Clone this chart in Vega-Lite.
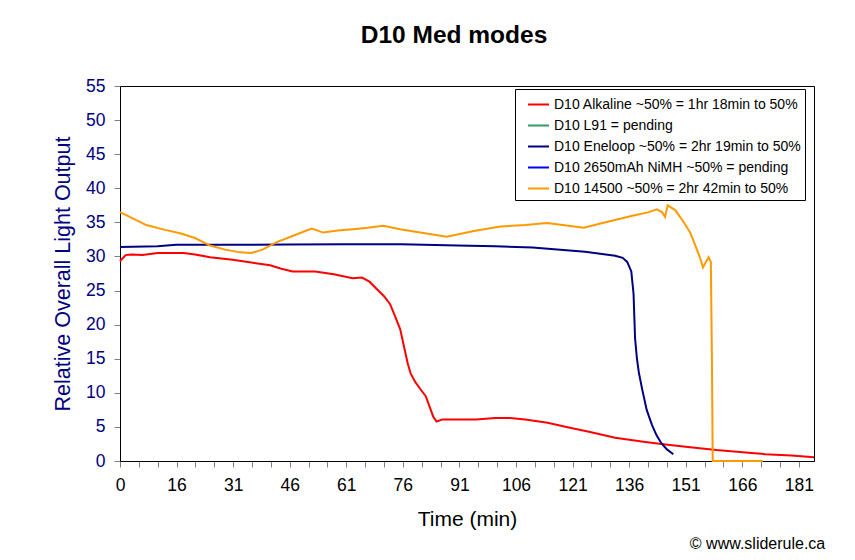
{
  "$schema": "https://vega.github.io/schema/vega-lite/v6.json",
  "width": 694,
  "height": 375,
  "autosize": "none",
  "padding": {"left": 120, "top": 86, "right": 41, "bottom": 99},
  "background": "white",
  "title": {"text": "D10 Med modes", "fontSize": 24.5, "font": "Liberation Sans", "fontWeight": "bold", "color": "black", "anchor": "middle", "offset": 29, "dx": -13},
  "config": {
    "view": {"stroke": "black", "strokeWidth": 1},
    "font": "Liberation Sans",
    "legend": {"orient": "none", "legendX": 395, "legendY": 3, "strokeColor": "black", "fillColor": "white", "padding": 4, "symbolOffset": 8, "symbolType": "stroke", "symbolStrokeWidth": 2, "symbolSize": 441, "labelFontSize": 14, "labelFont": "Liberation Sans", "labelColor": "black", "rowPadding": 2, "labelLimit": 400, "labelOffset": 4}
  },
  "data": {"values": [
    {"series": "D10 Alkaline ~50% = 1hr 18min to 50%", "t": 0, "v": 29.3},
    {"series": "D10 Alkaline ~50% = 1hr 18min to 50%", "t": 1.5, "v": 30.2},
    {"series": "D10 Alkaline ~50% = 1hr 18min to 50%", "t": 3, "v": 30.3},
    {"series": "D10 Alkaline ~50% = 1hr 18min to 50%", "t": 6, "v": 30.2},
    {"series": "D10 Alkaline ~50% = 1hr 18min to 50%", "t": 10, "v": 30.5},
    {"series": "D10 Alkaline ~50% = 1hr 18min to 50%", "t": 17, "v": 30.5},
    {"series": "D10 Alkaline ~50% = 1hr 18min to 50%", "t": 20, "v": 30.3},
    {"series": "D10 Alkaline ~50% = 1hr 18min to 50%", "t": 24, "v": 29.9},
    {"series": "D10 Alkaline ~50% = 1hr 18min to 50%", "t": 30, "v": 29.5},
    {"series": "D10 Alkaline ~50% = 1hr 18min to 50%", "t": 35, "v": 29.1},
    {"series": "D10 Alkaline ~50% = 1hr 18min to 50%", "t": 40, "v": 28.7},
    {"series": "D10 Alkaline ~50% = 1hr 18min to 50%", "t": 43, "v": 28.2},
    {"series": "D10 Alkaline ~50% = 1hr 18min to 50%", "t": 46, "v": 27.8},
    {"series": "D10 Alkaline ~50% = 1hr 18min to 50%", "t": 52, "v": 27.8},
    {"series": "D10 Alkaline ~50% = 1hr 18min to 50%", "t": 57, "v": 27.4},
    {"series": "D10 Alkaline ~50% = 1hr 18min to 50%", "t": 62, "v": 26.8},
    {"series": "D10 Alkaline ~50% = 1hr 18min to 50%", "t": 64.5, "v": 26.9},
    {"series": "D10 Alkaline ~50% = 1hr 18min to 50%", "t": 66.5, "v": 26.3},
    {"series": "D10 Alkaline ~50% = 1hr 18min to 50%", "t": 68.5, "v": 25.2},
    {"series": "D10 Alkaline ~50% = 1hr 18min to 50%", "t": 70.5, "v": 24.1},
    {"series": "D10 Alkaline ~50% = 1hr 18min to 50%", "t": 72, "v": 23.0},
    {"series": "D10 Alkaline ~50% = 1hr 18min to 50%", "t": 73.5, "v": 21.0},
    {"series": "D10 Alkaline ~50% = 1hr 18min to 50%", "t": 74.7, "v": 19.3},
    {"series": "D10 Alkaline ~50% = 1hr 18min to 50%", "t": 75.7, "v": 16.8},
    {"series": "D10 Alkaline ~50% = 1hr 18min to 50%", "t": 76.7, "v": 14.3},
    {"series": "D10 Alkaline ~50% = 1hr 18min to 50%", "t": 77.5, "v": 12.8},
    {"series": "D10 Alkaline ~50% = 1hr 18min to 50%", "t": 78.7, "v": 11.6},
    {"series": "D10 Alkaline ~50% = 1hr 18min to 50%", "t": 80, "v": 10.6},
    {"series": "D10 Alkaline ~50% = 1hr 18min to 50%", "t": 81.5, "v": 9.5},
    {"series": "D10 Alkaline ~50% = 1hr 18min to 50%", "t": 82.5, "v": 8.0},
    {"series": "D10 Alkaline ~50% = 1hr 18min to 50%", "t": 83.5, "v": 6.5},
    {"series": "D10 Alkaline ~50% = 1hr 18min to 50%", "t": 84.4, "v": 5.8},
    {"series": "D10 Alkaline ~50% = 1hr 18min to 50%", "t": 86, "v": 6.1},
    {"series": "D10 Alkaline ~50% = 1hr 18min to 50%", "t": 90, "v": 6.1},
    {"series": "D10 Alkaline ~50% = 1hr 18min to 50%", "t": 95, "v": 6.1},
    {"series": "D10 Alkaline ~50% = 1hr 18min to 50%", "t": 100, "v": 6.3},
    {"series": "D10 Alkaline ~50% = 1hr 18min to 50%", "t": 104, "v": 6.3},
    {"series": "D10 Alkaline ~50% = 1hr 18min to 50%", "t": 108, "v": 6.1},
    {"series": "D10 Alkaline ~50% = 1hr 18min to 50%", "t": 114, "v": 5.6},
    {"series": "D10 Alkaline ~50% = 1hr 18min to 50%", "t": 119, "v": 5.0},
    {"series": "D10 Alkaline ~50% = 1hr 18min to 50%", "t": 125, "v": 4.3},
    {"series": "D10 Alkaline ~50% = 1hr 18min to 50%", "t": 132, "v": 3.4},
    {"series": "D10 Alkaline ~50% = 1hr 18min to 50%", "t": 140, "v": 2.8},
    {"series": "D10 Alkaline ~50% = 1hr 18min to 50%", "t": 146, "v": 2.4},
    {"series": "D10 Alkaline ~50% = 1hr 18min to 50%", "t": 152, "v": 2.0},
    {"series": "D10 Alkaline ~50% = 1hr 18min to 50%", "t": 159, "v": 1.6},
    {"series": "D10 Alkaline ~50% = 1hr 18min to 50%", "t": 166, "v": 1.3},
    {"series": "D10 Alkaline ~50% = 1hr 18min to 50%", "t": 172, "v": 1.0},
    {"series": "D10 Alkaline ~50% = 1hr 18min to 50%", "t": 179, "v": 0.8},
    {"series": "D10 Alkaline ~50% = 1hr 18min to 50%", "t": 185, "v": 0.55},
    {"series": "D10 Eneloop ~50% = 2hr 19min to 50%", "t": 0, "v": 31.4},
    {"series": "D10 Eneloop ~50% = 2hr 19min to 50%", "t": 10, "v": 31.5},
    {"series": "D10 Eneloop ~50% = 2hr 19min to 50%", "t": 15, "v": 31.7},
    {"series": "D10 Eneloop ~50% = 2hr 19min to 50%", "t": 30, "v": 31.7},
    {"series": "D10 Eneloop ~50% = 2hr 19min to 50%", "t": 45, "v": 31.75},
    {"series": "D10 Eneloop ~50% = 2hr 19min to 50%", "t": 60, "v": 31.8},
    {"series": "D10 Eneloop ~50% = 2hr 19min to 50%", "t": 75, "v": 31.8},
    {"series": "D10 Eneloop ~50% = 2hr 19min to 50%", "t": 90, "v": 31.6},
    {"series": "D10 Eneloop ~50% = 2hr 19min to 50%", "t": 100, "v": 31.5},
    {"series": "D10 Eneloop ~50% = 2hr 19min to 50%", "t": 110, "v": 31.3},
    {"series": "D10 Eneloop ~50% = 2hr 19min to 50%", "t": 119, "v": 30.9},
    {"series": "D10 Eneloop ~50% = 2hr 19min to 50%", "t": 124, "v": 30.7},
    {"series": "D10 Eneloop ~50% = 2hr 19min to 50%", "t": 128, "v": 30.4},
    {"series": "D10 Eneloop ~50% = 2hr 19min to 50%", "t": 132, "v": 30.1},
    {"series": "D10 Eneloop ~50% = 2hr 19min to 50%", "t": 134, "v": 29.8},
    {"series": "D10 Eneloop ~50% = 2hr 19min to 50%", "t": 135.2, "v": 29.2},
    {"series": "D10 Eneloop ~50% = 2hr 19min to 50%", "t": 136.3, "v": 27.8},
    {"series": "D10 Eneloop ~50% = 2hr 19min to 50%", "t": 136.9, "v": 24.5},
    {"series": "D10 Eneloop ~50% = 2hr 19min to 50%", "t": 137.3, "v": 18.0},
    {"series": "D10 Eneloop ~50% = 2hr 19min to 50%", "t": 137.8, "v": 15.0},
    {"series": "D10 Eneloop ~50% = 2hr 19min to 50%", "t": 138.3, "v": 13.0},
    {"series": "D10 Eneloop ~50% = 2hr 19min to 50%", "t": 139.2, "v": 10.5},
    {"series": "D10 Eneloop ~50% = 2hr 19min to 50%", "t": 140.4, "v": 7.5},
    {"series": "D10 Eneloop ~50% = 2hr 19min to 50%", "t": 141.8, "v": 5.3},
    {"series": "D10 Eneloop ~50% = 2hr 19min to 50%", "t": 143, "v": 3.8},
    {"series": "D10 Eneloop ~50% = 2hr 19min to 50%", "t": 144.3, "v": 2.6},
    {"series": "D10 Eneloop ~50% = 2hr 19min to 50%", "t": 145.8, "v": 1.7},
    {"series": "D10 Eneloop ~50% = 2hr 19min to 50%", "t": 147.5, "v": 1.0},
    {"series": "D10 14500 ~50% = 2hr 42min to 50%", "t": 0, "v": 36.5},
    {"series": "D10 14500 ~50% = 2hr 42min to 50%", "t": 3, "v": 35.7},
    {"series": "D10 14500 ~50% = 2hr 42min to 50%", "t": 7, "v": 34.6},
    {"series": "D10 14500 ~50% = 2hr 42min to 50%", "t": 12, "v": 33.9},
    {"series": "D10 14500 ~50% = 2hr 42min to 50%", "t": 16, "v": 33.4},
    {"series": "D10 14500 ~50% = 2hr 42min to 50%", "t": 20, "v": 32.7},
    {"series": "D10 14500 ~50% = 2hr 42min to 50%", "t": 24, "v": 31.6},
    {"series": "D10 14500 ~50% = 2hr 42min to 50%", "t": 28, "v": 31.0},
    {"series": "D10 14500 ~50% = 2hr 42min to 50%", "t": 32, "v": 30.6},
    {"series": "D10 14500 ~50% = 2hr 42min to 50%", "t": 35, "v": 30.5},
    {"series": "D10 14500 ~50% = 2hr 42min to 50%", "t": 38, "v": 31.0},
    {"series": "D10 14500 ~50% = 2hr 42min to 50%", "t": 41.8, "v": 32.1},
    {"series": "D10 14500 ~50% = 2hr 42min to 50%", "t": 46, "v": 33.0},
    {"series": "D10 14500 ~50% = 2hr 42min to 50%", "t": 51.1, "v": 34.1},
    {"series": "D10 14500 ~50% = 2hr 42min to 50%", "t": 54.2, "v": 33.5},
    {"series": "D10 14500 ~50% = 2hr 42min to 50%", "t": 58, "v": 33.8},
    {"series": "D10 14500 ~50% = 2hr 42min to 50%", "t": 62.2, "v": 34.0},
    {"series": "D10 14500 ~50% = 2hr 42min to 50%", "t": 66, "v": 34.2},
    {"series": "D10 14500 ~50% = 2hr 42min to 50%", "t": 70.2, "v": 34.5},
    {"series": "D10 14500 ~50% = 2hr 42min to 50%", "t": 74.7, "v": 34.0},
    {"series": "D10 14500 ~50% = 2hr 42min to 50%", "t": 80, "v": 33.5},
    {"series": "D10 14500 ~50% = 2hr 42min to 50%", "t": 87.1, "v": 32.9},
    {"series": "D10 14500 ~50% = 2hr 42min to 50%", "t": 94, "v": 33.7},
    {"series": "D10 14500 ~50% = 2hr 42min to 50%", "t": 101.3, "v": 34.4},
    {"series": "D10 14500 ~50% = 2hr 42min to 50%", "t": 108, "v": 34.6},
    {"series": "D10 14500 ~50% = 2hr 42min to 50%", "t": 113.8, "v": 34.9},
    {"series": "D10 14500 ~50% = 2hr 42min to 50%", "t": 118, "v": 34.6},
    {"series": "D10 14500 ~50% = 2hr 42min to 50%", "t": 123.6, "v": 34.2},
    {"series": "D10 14500 ~50% = 2hr 42min to 50%", "t": 130, "v": 35.1},
    {"series": "D10 14500 ~50% = 2hr 42min to 50%", "t": 136.9, "v": 36.0},
    {"series": "D10 14500 ~50% = 2hr 42min to 50%", "t": 141, "v": 36.5},
    {"series": "D10 14500 ~50% = 2hr 42min to 50%", "t": 143.1, "v": 36.9},
    {"series": "D10 14500 ~50% = 2hr 42min to 50%", "t": 144.5, "v": 36.5},
    {"series": "D10 14500 ~50% = 2hr 42min to 50%", "t": 145.3, "v": 35.8},
    {"series": "D10 14500 ~50% = 2hr 42min to 50%", "t": 146.0, "v": 37.5},
    {"series": "D10 14500 ~50% = 2hr 42min to 50%", "t": 148, "v": 36.8},
    {"series": "D10 14500 ~50% = 2hr 42min to 50%", "t": 150.2, "v": 35.1},
    {"series": "D10 14500 ~50% = 2hr 42min to 50%", "t": 152, "v": 33.5},
    {"series": "D10 14500 ~50% = 2hr 42min to 50%", "t": 153.3, "v": 31.7},
    {"series": "D10 14500 ~50% = 2hr 42min to 50%", "t": 154.5, "v": 30.0},
    {"series": "D10 14500 ~50% = 2hr 42min to 50%", "t": 155.4, "v": 28.4},
    {"series": "D10 14500 ~50% = 2hr 42min to 50%", "t": 156.9, "v": 29.9},
    {"series": "D10 14500 ~50% = 2hr 42min to 50%", "t": 157.5, "v": 29.2},
    {"series": "D10 14500 ~50% = 2hr 42min to 50%", "t": 157.8, "v": 14.3},
    {"series": "D10 14500 ~50% = 2hr 42min to 50%", "t": 158.0, "v": 0},
    {"series": "D10 14500 ~50% = 2hr 42min to 50%", "t": 171.3, "v": 0}
  ]},
  "layer": [
    {
      "mark": {"type": "line", "strokeWidth": 2, "clip": false},
      "encoding": {
        "x": {"field": "t", "type": "quantitative", "scale": {"domain": [0, 185], "nice": false, "zero": false},
          "axis": {"title": "Time (min)", "titleFontSize": 21, "titleFontWeight": "normal", "titleColor": "black", "titlePadding": 15, "tickCount": 200,
            "values": [0, 5.0267, 10.0533, 15.08, 20.1067, 25.1333, 30.16, 35.1867, 40.2133, 45.24, 50.2667, 55.2933, 60.32, 65.3467, 70.3733, 75.4, 80.4267, 85.4533, 90.48, 95.5067, 100.5333, 105.56, 110.5867, 115.6133, 120.64, 125.6667, 130.6933, 135.72, 140.7467, 145.7733, 150.8, 155.8267, 160.8533, 165.88, 170.9067, 175.9333, 180.96],
            "labelExpr": "round(datum.value/5.0267) % 3 == 0 ? ['0','16','31','46','61','76','91','106','121','136','151','166','181'][round(datum.value/5.0267)/3] : ''",
            "labelFontSize": 17.5, "labelColor": "black", "labelPadding": 9, "labelOverlap": false, "labelFlush": false,
            "grid": false, "domainColor": "black", "tickColor": "#808080", "tickSize": 6}},
        "y": {"field": "v", "type": "quantitative", "scale": {"domain": [0, 55], "nice": false},
          "axis": {"title": "Relative Overall Light Output", "titleFontSize": 21.5, "titleFontWeight": "normal", "titleColor": "#000080", "titlePadding": 11, "tickCount": 100, "format": "d",
            "values": [0, 5, 10, 15, 20, 25, 30, 35, 40, 45, 50, 55], "labelFontSize": 17.5, "labelColor": "#000080", "labelPadding": 9, "labelOverlap": false,
            "grid": false, "domainColor": "black", "tickColor": "#808080", "tickSize": 6}},
        "color": {"field": "series", "type": "nominal",
          "scale": {"domain": ["D10 Alkaline ~50% = 1hr 18min to 50%", "D10 L91 = pending", "D10 Eneloop ~50% = 2hr 19min to 50%", "D10 2650mAh NiMH ~50% = pending", "D10 14500 ~50% = 2hr 42min to 50%"],
            "range": ["#FF0000", "#339966", "#000080", "#0000FF", "#FF9900"]},
          "legend": {"title": null}}
      }
    },
    {
      "data": {"values": [{"note": "© www.sliderule.ca"}]},
      "mark": {"type": "text", "align": "right", "baseline": "middle", "fontSize": 16, "font": "Liberation Sans", "color": "black", "clip": false},
      "encoding": {
        "x": {"datum": 188},
        "y": {"datum": -12.2},
        "text": {"field": "note"}
      }
    }
  ]
}
